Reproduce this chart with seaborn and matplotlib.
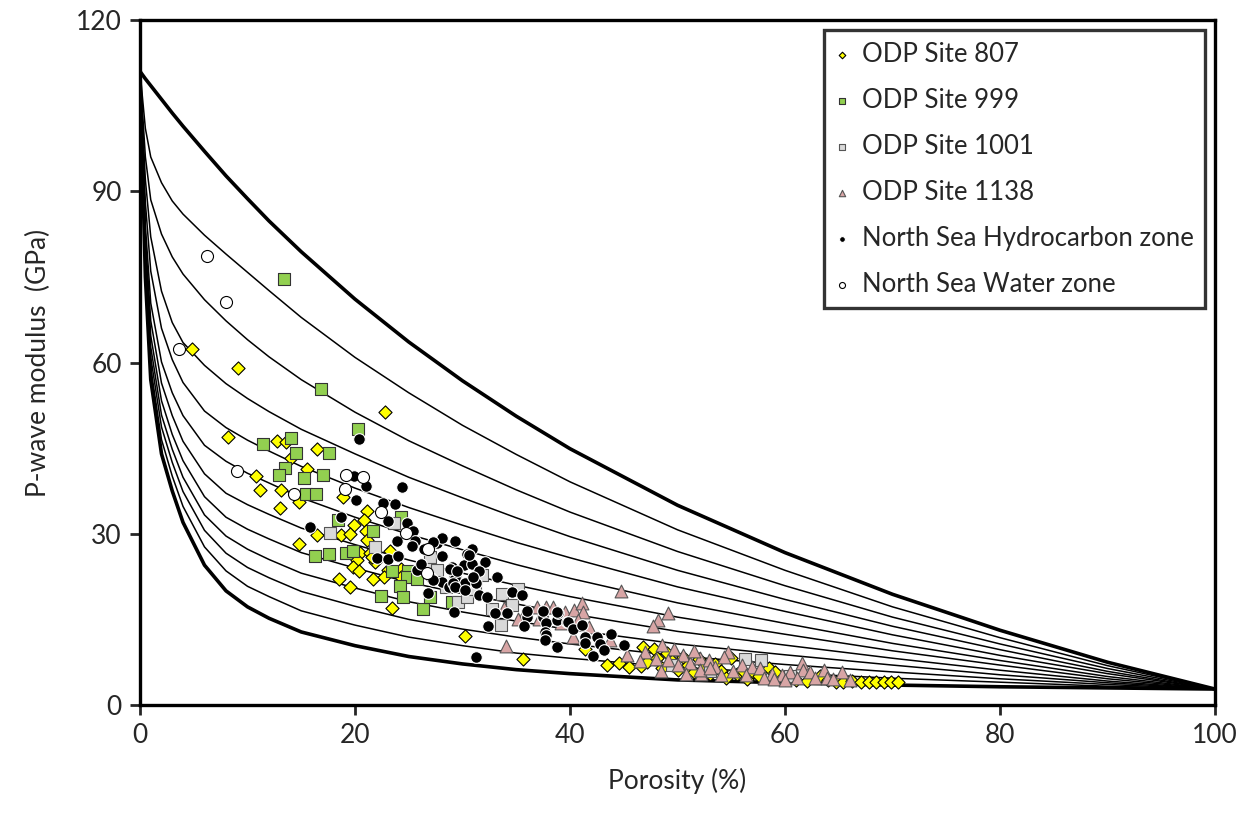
import matplotlib
matplotlib.use("Agg")
import matplotlib.pyplot as plt
import numpy as np
import pandas as pd
import seaborn as sns

# porosity grid (%) for the model curves (GPa)
phi_grid = [0, 0.5, 1, 2, 3, 4, 6, 8, 10, 12, 15, 20, 25, 30, 35, 40, 50, 60, 70, 80, 90, 100]

upper_bound = [111, 109.7, 108.5, 106.1, 103.7, 101.4, 97.0, 92.7, 88.7, 84.8, 79.4, 71.1, 63.6, 56.8, 50.6, 44.9, 35.0, 26.7, 19.4, 13.1, 7.5, 2.8]
curve_1 = [111, 101, 96, 91.5, 88.3, 86, 82.3, 79, 75.8, 72.6, 67.9, 60.9, 54.7, 49.0, 43.9, 39.1, 30.7, 23.6, 17.2, 11.8, 6.9, 2.8]
curve_2 = [111, 96, 88.5, 82.5, 78.5, 75.5, 71.0, 67.3, 64.0, 61.0, 57.0, 51.3, 46.3, 41.9, 37.7, 33.8, 26.9, 20.9, 15.4, 10.7, 6.4, 2.8]
curve_3 = [111, 92, 82, 72.5, 67, 63.5, 59.5, 56.3, 53.7, 51.4, 48.3, 44.0, 39.9, 36.3, 32.8, 29.5, 23.6, 18.5, 13.8, 9.7, 5.9, 2.8]
curve_4 = [111, 88, 76, 66, 60.5, 56.5, 51.5, 48.6, 46.4, 44.5, 41.8, 38.0, 34.6, 31.5, 28.5, 25.8, 20.7, 16.4, 12.3, 8.7, 5.5, 2.8]
curve_5 = [111, 84, 70.4, 60.1, 54.7, 50.7, 45.5, 42.7, 40.6, 38.9, 36.3, 32.9, 29.9, 27.2, 24.6, 22.2, 17.9, 14.3, 10.8, 7.8, 5.0, 2.8]
curve_6 = [111, 81.9, 67.3, 56.4, 50.7, 46.2, 40.5, 37.1, 35.1, 33.4, 31.0, 28.1, 25.4, 23.1, 21.0, 19.0, 15.4, 12.4, 9.5, 7.0, 4.6, 2.8]
curve_7 = [111, 80.2, 64.7, 53.3, 47.4, 42.8, 36.5, 32.9, 30.8, 29.1, 26.7, 24.0, 21.5, 19.5, 17.7, 16.0, 12.9, 10.5, 8.2, 6.1, 4.2, 2.8]
curve_8 = [111, 78.8, 62.7, 50.8, 44.8, 39.9, 33.3, 29.6, 27.3, 25.5, 23.1, 20.5, 18.1, 16.3, 14.7, 13.2, 10.7, 8.8, 7.0, 5.3, 3.9, 2.8]
curve_9 = [111, 77.6, 60.9, 48.7, 42.5, 37.4, 30.6, 26.6, 24.1, 22.3, 19.9, 17.3, 15.0, 13.3, 11.9, 10.7, 8.6, 7.1, 5.8, 4.6, 3.6, 2.8]
curve_10 = [111, 76.4, 59.1, 46.5, 40.1, 34.8, 27.7, 23.5, 20.8, 19.0, 16.5, 14.0, 11.9, 10.4, 9.1, 8.2, 6.6, 5.6, 4.7, 4.0, 3.3, 2.8]
lower_bound = [111, 75, 57, 44, 37.5, 32, 24.5, 20, 17.2, 15.2, 12.8, 10.4, 8.5, 7.2, 6.2, 5.5, 4.4, 3.9, 3.5, 3.2, 3.0, 2.8]

# measured data, porosity (%) and P-wave modulus (GPa)
site807_phi = [4.8, 9.1, 22.8, 8.2, 12.7, 13.6, 14.0, 15.5, 16.5, 10.8, 11.2, 13.1, 14.8, 13.0, 18.9, 21.1, 20.8, 19.9,
               16.5, 18.7, 19.5, 21.0, 14.8, 21.1, 23.3, 20.5, 21.4, 20.2, 19.8, 20.4, 21.9, 23.1, 24.3, 22.7, 21.7, 18.5,
               19.5, 23.4, 24.3, 21.6, 30.2, 35.6, 41.4, 43.4, 44.6, 45.5, 46.6, 46.8, 47.8, 48.1, 47.2, 48.6, 49.0, 49.5,
               50.0, 50.5, 51.0, 51.5, 52.0, 52.5, 53.0, 53.5, 54.0, 54.5, 55.0, 55.5, 56.0, 56.5, 57.0, 57.6, 58.5, 59.1,
               60.0, 61.0, 62.0, 63.3, 64.0, 64.7, 65.4, 66.2, 67.1, 67.8, 68.5, 69.2, 69.9, 70.5]
site807_m = [62.3, 59.0, 51.3, 46.9, 46.3, 46.0, 43.2, 41.3, 44.8, 40.2, 37.7, 37.7, 35.5, 34.6, 36.5, 34.0, 32.4, 31.5,
             29.8, 29.8, 30.0, 30.4, 28.2, 28.9, 27.0, 26.6, 26.6, 25.4, 24.2, 23.5, 25.1, 23.7, 23.9, 22.4, 22.0, 22.0,
             20.6, 17.0, 22.5, 26.0, 12.1, 8.0, 9.9, 7.0, 7.3, 6.6, 6.8, 10.1, 9.9, 8.2, 7.5, 6.5, 9.2, 7.8,
             6.2, 8.5, 7.0, 5.8, 8.0, 6.5, 5.5, 7.2, 6.0, 4.8, 8.2, 5.5, 6.2, 4.6, 5.8, 5.0, 6.4, 5.8,
             4.6, 4.4, 4.2, 5.0, 4.3, 4.1, 4.0, 4.2, 4.1, 4.1, 4.1, 4.1, 4.1, 4.1]

site999_phi = [13.4, 16.8, 20.3, 11.4, 14.0, 14.5, 17.6, 13.5, 12.9, 15.3, 17.0, 15.4, 16.4, 24.3, 18.4, 21.7, 16.3,
               17.6, 19.2, 19.8, 23.4, 24.9, 24.8, 24.2, 22.4, 24.5, 26.3, 29.0, 27.0, 25.8]
site999_m = [74.6, 55.3, 48.4, 45.8, 46.8, 44.2, 44.1, 41.5, 40.3, 39.7, 40.3, 37.0, 37.0, 33.0, 32.4, 30.4, 26.1,
             26.4, 26.7, 27.0, 23.4, 23.5, 22.5, 20.8, 19.1, 18.9, 16.9, 18.0, 18.9, 22.0]

site1001_phi = [17.7, 21.9, 23.6, 26.6, 27.0, 27.6, 29.6, 30.4, 31.8, 33.7, 35.2, 32.7, 28.5, 33.6, 29.3, 31.2,
                34.6, 49.5, 53.0, 56.3, 57.8, 60.5]
site1001_m = [30.2, 27.7, 31.9, 24.2, 26.0, 23.7, 18.1, 18.9, 22.8, 19.4, 20.4, 16.9, 20.7, 14.0, 21.5, 20.3,
              17.5, 7.0, 6.0, 8.1, 7.9, 5.0]

site1138_phi = [44.7, 49.1, 48.2, 47.7, 35.8, 36.9, 37.8, 38.4, 39.5, 40.4, 41.1, 41.2, 37.1, 39.2, 40.7, 41.8, 40.3,
                43.7, 45.3, 48.6, 49.7, 47.0, 49.1, 50.5, 51.2, 52.1, 52.9, 53.5, 52.2, 33.9, 35.2, 54.7, 54.3,
                56.0, 56.9, 57.7, 58.8, 59.7, 60.5, 61.6, 61.7, 62.3, 63.6, 65.3, 56.4, 58.0, 61.1, 62.8, 63.9,
                52.1, 53.0, 34.0, 48.0, 50.0, 51.5, 55.2, 54.0, 59.0, 60.0, 64.5, 66.0, 48.5, 46.5, 50.8]
site1138_m = [19.9, 16.1, 14.9, 13.8, 16.3, 17.2, 17.2, 17.2, 16.3, 16.6, 17.9, 16.3, 15.0, 14.3, 14.9, 13.7, 12.0,
              11.4, 8.8, 10.5, 9.9, 9.3, 7.9, 8.8, 7.3, 8.2, 7.9, 6.7, 5.5, 17.0, 15.0, 9.3, 8.5,
              7.0, 6.7, 6.4, 5.5, 5.3, 5.8, 7.3, 6.1, 5.8, 6.2, 5.8, 5.3, 4.8, 4.8, 4.7, 4.8,
              6.1, 6.4, 10.3, 8.0, 7.0, 9.5, 6.0, 5.2, 4.6, 4.3, 4.5, 4.3, 6.0, 7.8, 5.5]

hc_zone_phi = [20.4, 19.9, 21.0, 24.4, 20.1, 22.6, 23.7, 18.7, 23.1, 24.8, 15.8, 25.4, 23.9, 25.6, 25.3, 26.4, 22.0,
               23.1, 24.0, 25.8, 26.8, 27.6, 28.1, 29.3, 30.9, 30.4, 28.1, 29.0, 30.1, 30.9, 32.1, 29.3, 30.2, 31.3,
               33.2, 26.1, 27.1, 28.1, 28.7, 31.5, 32.3, 34.6, 35.5, 29.2, 33.0, 34.1, 36.0, 27.3, 30.6, 28.8, 29.5,
               31.5, 27.3, 29.1, 31.0, 29.3, 30.2, 32.4, 35.7, 37.5, 37.8, 38.8, 38.9, 39.7, 37.7, 37.8, 36.0, 37.5,
               38.8, 39.8, 37.7, 38.8, 40.3, 41.1, 41.4, 41.4, 42.5, 42.8, 43.8, 43.2, 42.1, 45.0, 31.3]
hc_zone_m = [46.6, 40.1, 38.4, 38.2, 36.0, 35.4, 35.3, 33.0, 32.2, 31.8, 31.1, 30.4, 28.7, 28.7, 27.9, 27.3, 25.8,
             25.6, 26.1, 23.7, 19.6, 28.4, 29.2, 28.7, 27.3, 26.5, 26.1, 24.1, 24.5, 24.7, 25.1, 22.2, 21.3, 21.3,
             22.5, 24.7, 22.2, 21.6, 20.7, 19.3, 19.0, 19.8, 19.3, 16.3, 16.2, 16.1, 15.5, 28.6, 26.3, 23.8, 23.5,
             23.4, 21.9, 21.4, 22.5, 20.6, 20.1, 13.8, 13.8, 15.5, 14.3, 14.9, 16.2, 14.6, 12.8, 12.3, 16.5, 16.5,
             16.3, 14.6, 11.4, 10.2, 13.4, 14.0, 11.9, 10.8, 11.9, 10.7, 12.4, 9.6, 8.6, 10.5, 8.4]

water_zone_phi = [6.2, 8.0, 3.6, 9.0, 14.3, 19.2, 20.7, 19.1, 22.4, 24.7, 26.8, 26.7]
water_zone_m = [78.7, 70.6, 62.4, 41.0, 37.0, 40.3, 40.0, 37.8, 33.8, 30.1, 27.3, 23.1]

curves = [upper_bound, curve_1, curve_2, curve_3, curve_4, curve_5, curve_6, curve_7, curve_8, curve_9,
          curve_10, lower_bound]

sns.set_style("white")
plt.rcParams["font.family"] = ["Lato", "DejaVu Sans"]

fig = plt.figure(figsize=(12.5, 8.13), dpi=100)
ax = fig.add_axes([0.112, 0.1328, 0.86, 0.8426])

# model curves, bounds drawn thicker
for i, vals in enumerate(curves):
    lw = 2.6 if i in (0, len(curves) - 1) else 1.1
    sns.lineplot(x=phi_grid, y=vals, color="black", linewidth=lw, legend=False, ax=ax, zorder=2)

series = [
    ("ODP Site 807", site807_phi, site807_m, "D", "#FFFF00", "black", 45),
    ("ODP Site 999", site999_phi, site999_m, "s", "#92D050", "#333333", 85),
    ("ODP Site 1001", site1001_phi, site1001_m, "s", "#D9D9D9", "#555555", 85),
    ("ODP Site 1138", site1138_phi, site1138_m, "^", "#D8A5A5", "#555555", 85),
    ("North Sea Hydrocarbon zone", hc_zone_phi, hc_zone_m, "o", "black", "white", 70),
    ("North Sea Water zone", water_zone_phi, water_zone_m, "o", "white", "black", 75),
]
for name, xs, ys, mk, fc, ec, size in series:
    df = pd.DataFrame({"phi": xs, "m": ys})
    sns.scatterplot(data=df, x="phi", y="m", marker=mk, color=fc, edgecolor=ec, linewidth=0.8,
                    s=size, label=name, ax=ax, zorder=3)

ax.set_xlim(0, 100)
ax.set_ylim(0, 120)
ax.set_xticks([0, 20, 40, 60, 80, 100])
ax.set_yticks([0, 30, 60, 90, 120])
ax.set_xlabel("Porosity (%)", fontsize=19, labelpad=14)
ax.set_ylabel("P-wave modulus  (GPa)", fontsize=19, labelpad=18)
ax.tick_params(axis="both", direction="out", length=7, width=2, labelsize=19, pad=6,
               bottom=True, left=True)
for sp in ax.spines.values():
    sp.set_linewidth(2.4)
    sp.set_color("black")

leg = ax.legend(loc="upper right", bbox_to_anchor=(0.9907, 0.9854), borderaxespad=0,
                fontsize=18.5, markerscale=0.5, handlelength=0.5, handletextpad=0.5,
                labelspacing=0.82, borderpad=0.45, frameon=True, fancybox=False)
leg.get_frame().set_edgecolor("black")
leg.get_frame().set_linewidth(2.4)

fig.savefig("out.png", dpi=100)
